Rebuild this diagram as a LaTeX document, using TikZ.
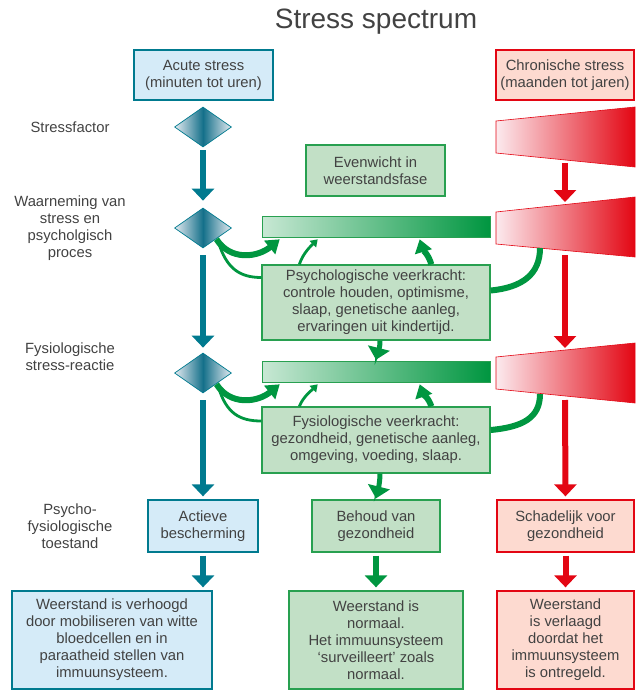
\documentclass[tikz,border=0pt]{standalone}
\usepackage{fontspec}
\setmainfont{Liberation Sans}
\usetikzlibrary{arrows.meta,shapes.geometric}

\definecolor{tealc}{RGB}{0,122,143}
\definecolor{tealfill}{RGB}{213,235,248}
\definecolor{tealpale}{RGB}{228,234,240}
\definecolor{tealdark}{RGB}{20,112,138}
\definecolor{greenc}{RGB}{0,150,64}
\definecolor{greenline}{RGB}{40,160,80}
\definecolor{greenfill}{RGB}{194,224,198}
\definecolor{greenpale}{RGB}{200,232,212}
\definecolor{redc}{RGB}{227,6,19}
\definecolor{redfill}{RGB}{253,218,208}
\definecolor{pinkpale}{RGB}{252,234,238}
\definecolor{textc}{RGB}{66,66,66}

\tikzset{
  every node/.style={font=\fontsize{14.8}{17}\selectfont, text=textc},
  box/.style={draw, line width=1.3pt, align=center, inner sep=1pt},
  bluebox/.style={box, draw=tealc, fill=tealfill},
  greenbox/.style={box, draw=greenline, fill=greenfill},
  redbox/.style={box, draw=redc, fill=redfill},
  sidelabel/.style={align=center},
  stressdia/.style={shape=diamond, draw=tealc, line width=0.7pt, minimum width=57pt,
    minimum height=40pt, inner sep=0pt, aspect=1.43,
    left color=tealpale, right color=tealpale, middle color=tealdark},
  greenbar/.style={draw=greenline, line width=0.6pt, minimum width=228pt, minimum height=21pt,
    inner sep=0pt, left color=greenpale, right color=greenc},
  redwedge/.style={draw=redc, line width=0.6pt, left color=pinkpale, right color=redc},
  tealarrow/.style={draw=tealc, line width=6pt, -{Triangle[width=22pt,length=12pt]}},
  redarrow/.style={draw=redc, line width=6pt, -{Triangle[width=22pt,length=12pt]}},
  greenarrow/.style={draw=greenc, line width=6pt, -{Triangle[width=22pt,length=12pt]}},
  thickbend/.style={draw=greenc, line width=6pt, -{Triangle[width=17pt,length=13pt]}},
  thinbend/.style={draw=greenc, line width=2.8pt, -{Triangle[width=9pt,length=7pt]}},
  plainbend/.style={draw=greenc, line width=6pt},
  thinplain/.style={draw=greenc, line width=2.8pt},
}

\begin{document}
\begin{tikzpicture}[x=1pt,y=-1pt]
\useasboundingbox (0,0) rectangle (638,690);

% title and column heads
\node (title) at (376,22) {\fontsize{28}{32}\selectfont Stress spectrum};
\node[bluebox, minimum width=139pt, minimum height=50pt] (acute) at (203.5,75) {Acute stress\\(minuten tot uren)};
\node[redbox, minimum width=138pt, minimum height=50pt] (chronic) at (565,75) {Chronische stress\\(maanden tot jaren)};

% row labels
\node[sidelabel] (lstress) at (70,127) {Stressfactor};
\node[sidelabel] (lwaarn) at (70,228) {Waarneming van\\stress en\\psycholgisch\\proces};
\node[sidelabel] (lfysio) at (70,357) {Fysiologische\\stress-reactie};
\node[sidelabel] (ltoest) at (70,526) {Psycho-\\fysiologische\\toestand};

% acute column
\node[stressdia] (dia1) at (203,127) {};
\node[stressdia] (dia2) at (203,228) {};
\node[stressdia] (dia3) at (203,373) {};
\node[bluebox, minimum width=110pt, minimum height=52pt] (actief) at (203,526) {Actieve\\bescherming};
\node[bluebox, minimum width=200pt, minimum height=98pt] (verhoogd) at (112,640) {Weerstand is verhoogd\\door mobiliseren van witte\\bloedcellen en in\\paraatheid stellen van\\immuunsysteem.};

\draw[tealarrow, shorten <=3pt, shorten >=7pt] (dia1.south) -- (dia2.north);
\draw[tealarrow, shorten <=7pt, shorten >=5pt] (dia2.south) -- (dia3.north);
\draw[tealarrow, shorten <=7pt, shorten >=3pt] (dia3.south) -- (actief.north);
\draw[tealarrow, shorten <=3pt, shorten >=3pt] (actief.south) -- (actief.south |- verhoogd.north);

% chronic column
\shade[redwedge] (496,121) -- (635,107) -- (635,167) -- (496,153) -- cycle;
\shade[redwedge] (496,212) -- (635,197) -- (635,257) -- (496,244) -- cycle;
\shade[redwedge] (496,357) -- (635,343) -- (635,403) -- (496,389) -- cycle;
\coordinate (w1bot) at (565,160);
\coordinate (w2top) at (565,205);
\coordinate (w2bot) at (565,251);
\coordinate (w2in) at (540,248);
\coordinate (w3top) at (565,350);
\coordinate (w3bot) at (565,396);
\coordinate (w3in) at (540,394);
\node[redbox, minimum width=137pt, minimum height=52pt] (schade) at (565.5,526) {Schadelijk voor\\gezondheid};
\node[redbox, minimum width=137pt, minimum height=98pt] (verlaagd) at (565.5,640) {Weerstand\\is verlaagd\\doordat het\\immuunsysteem\\is ontregeld.};

\draw[redarrow, shorten <=3pt, shorten >=3pt] (w1bot) -- (w2top);
\draw[redarrow, shorten <=4pt, shorten >=2pt] (w2bot) -- (w3top);
\draw[redarrow, shorten <=4pt, shorten >=3pt] (w3bot) -- (schade.north);
\draw[redarrow, shorten <=3pt, shorten >=3pt] (schade.south) -- (verlaagd.north);

% middle column
\node[greenbox, minimum width=139pt, minimum height=51pt] (evenw) at (375.5,170.5) {Evenwicht in\\weerstandsfase};
\node[greenbar] (bar1) at (376,226.5) {};
\node[greenbar] (bar2) at (376,371.5) {};
\node[greenbox, minimum width=228pt, minimum height=75pt] (psy) at (376,302.5) {Psychologische veerkracht:\\controle houden, optimisme,\\slaap, genetische aanleg,\\ervaringen uit kindertijd.};
\node[greenbox, minimum width=228pt, minimum height=66pt] (fys) at (376,440) {Fysiologische veerkracht:\\gezondheid, genetische aanleg,\\omgeving, voeding, slaap.};
\node[greenbox, minimum width=128pt, minimum height=52pt] (behoud) at (376,526) {Behoud van\\gezondheid};
\node[greenbox, minimum width=174pt, minimum height=98pt] (normaal) at (376,640) {Weerstand is\\normaal.\\Het immuunsysteem\\‘surveilleert’ zoals\\normaal.};

% green bends, psychological row
\draw[thickbend] ([xshift=-1pt,yshift=-1pt]dia2.south east) .. controls +(14,22) and +(-22,18) .. ([xshift=18pt,yshift=-2pt]bar1.south west);
\draw[thinplain] ([xshift=1pt,yshift=-4pt]dia2.south east) .. controls +(8,26) and +(-22,0) .. ([yshift=25pt]psy.west);
\draw[thinbend] ([xshift=38pt]psy.north west) .. controls +(4,-12) and +(-6,6) .. ([xshift=56pt,yshift=-2pt]bar1.south west);
\draw[thickbend] ([xshift=170pt]psy.north west) .. controls +(-3,-10) and +(3,10) .. ([xshift=158pt,yshift=-2pt]bar1.south west);
\draw[plainbend] ([yshift=12pt]psy.east) .. controls +(32,-3) and +(0,26) .. (w2in);
\draw[greenarrow, line width=5pt] ([xshift=4pt]psy.south) .. controls +(0,8) and +(2,-8) .. ([yshift=1pt]bar2.north);

% green bends, physiological row
\draw[thickbend] ([xshift=-1pt,yshift=-1pt]dia3.south east) .. controls +(14,22) and +(-22,18) .. ([xshift=18pt,yshift=-2pt]bar2.south west);
\draw[thinplain] ([xshift=1pt,yshift=-4pt]dia3.south east) .. controls +(8,26) and +(-22,0) .. ([yshift=19pt]fys.west);
\draw[thinbend] ([xshift=38pt]fys.north west) .. controls +(4,-10) and +(-6,6) .. ([xshift=56pt,yshift=-2pt]bar2.south west);
\draw[thickbend] ([xshift=170pt]fys.north west) .. controls +(-3,-9) and +(3,9) .. ([xshift=158pt,yshift=-2pt]bar2.south west);
\draw[plainbend] ([yshift=10pt]fys.east) .. controls +(32,-3) and +(0,24) .. (w3in);
\draw[greenarrow, line width=5pt] ([xshift=4pt]fys.south) .. controls +(0,8) and +(2,-8) .. ([yshift=1pt]behoud.north);
\draw[greenarrow, shorten <=3pt, shorten >=3pt] (behoud.south) -- (normaal.north);
\end{tikzpicture}
\end{document}
